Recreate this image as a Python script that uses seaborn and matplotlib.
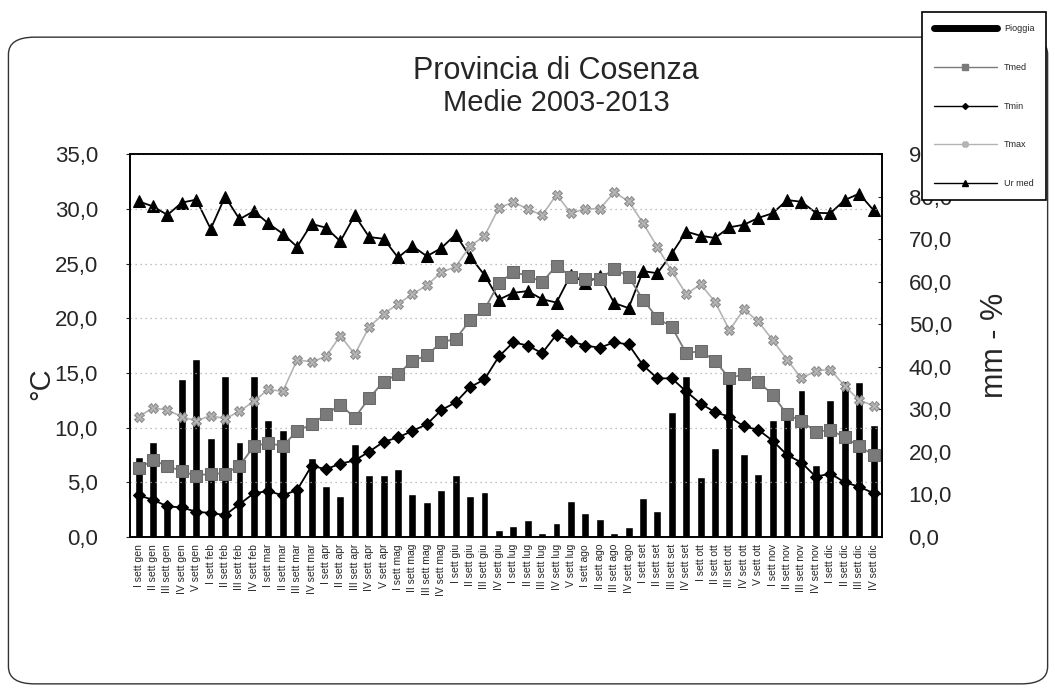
import matplotlib
matplotlib.use('Agg')
import matplotlib.pyplot as plt
from matplotlib.patches import FancyBboxPatch
from matplotlib.lines import Line2D
from matplotlib.ticker import FuncFormatter, MultipleLocator
import seaborn as sns
import numpy as np

# mesi e numero di settimane per mese (52 settimane)
mesi = ['gen', 'feb', 'mar', 'apr', 'mag', 'giu', 'lug', 'ago', 'set', 'ott', 'nov', 'dic']
sett_per_mese = [5, 4, 4, 5, 4, 4, 5, 4, 4, 5, 4, 4]
romani = ['I', 'II', 'III', 'IV', 'V']

# pioggia settimanale (mm)
pioggia = [18.7, 22.4, 7.8, 37.1, 41.9, 23.3, 37.8, 22.3, 37.9, 27.4,
           25.2, 12.0, 18.6, 12.0, 9.6, 21.8, 14.6, 14.5, 15.9, 10.0,
           8.3, 11.0, 14.5, 9.7, 10.5, 1.6, 2.5, 3.9, 1.0, 3.3,
           8.5, 5.7, 4.2, 1.0, 2.3, 9.1, 6.2, 29.3, 37.8, 14.2,
           20.8, 37.3, 19.5, 14.7, 27.4, 29.4, 34.6, 16.9, 32.1, 36.6,
           36.5, 26.4]
# temperature (°C)
tmed = [6.3, 7.0, 6.5, 6.0, 5.6, 5.8, 5.8, 6.5, 8.3, 8.6,
        8.3, 9.7, 10.3, 11.2, 12.1, 10.9, 12.7, 14.2, 14.9, 16.1,
        16.6, 17.8, 18.1, 19.8, 20.8, 23.2, 24.2, 23.9, 23.3, 24.8,
        23.8, 23.6, 23.6, 24.5, 23.8, 21.7, 20.0, 19.2, 16.8, 17.0,
        16.1, 14.5, 14.9, 14.2, 13.0, 11.2, 10.6, 9.6, 9.8, 9.1,
        8.3, 7.5]
tmin = [3.8, 3.4, 2.8, 2.7, 2.3, 2.2, 2.0, 3.0, 4.0, 4.2,
        3.8, 4.3, 6.5, 6.2, 6.7, 7.0, 7.8, 8.7, 9.1, 9.7,
        10.3, 11.6, 12.3, 13.7, 14.4, 16.5, 17.8, 17.5, 16.8, 18.5,
        17.9, 17.5, 17.3, 17.8, 17.6, 15.7, 14.5, 14.5, 13.3, 12.2,
        11.4, 11.0, 10.1, 9.8, 8.8, 7.5, 6.8, 5.5, 5.8, 5.0,
        4.6, 4.0]
tmax = [11.0, 11.8, 11.6, 11.0, 10.6, 11.1, 10.8, 11.5, 12.4, 13.5,
        13.3, 16.2, 16.0, 16.5, 18.4, 16.7, 19.2, 20.4, 21.3, 22.2,
        23.0, 24.2, 24.7, 26.6, 27.5, 30.1, 30.6, 30.0, 29.4, 31.3,
        29.6, 30.0, 30.0, 31.5, 30.7, 28.7, 26.5, 24.3, 22.2, 23.1,
        21.5, 18.9, 20.8, 19.7, 18.0, 16.2, 14.5, 15.2, 15.3, 13.8,
        12.5, 12.0]
# umidita' relativa media (%)
ur_med = [78.9, 77.7, 75.7, 78.6, 79.3, 72.4, 80.0, 74.7, 76.6, 73.7,
          71.3, 68.2, 73.6, 72.7, 69.5, 75.6, 70.5, 70.1, 65.7, 68.4,
          66.0, 67.9, 71.1, 65.9, 61.6, 55.8, 57.4, 57.8, 55.9, 55.1,
          61.7, 59.7, 61.3, 55.0, 53.8, 62.5, 62.0, 66.6, 71.8, 70.8,
          70.3, 72.8, 73.4, 75.0, 76.1, 79.2, 78.8, 76.2, 76.1, 79.2,
          80.7, 76.8]

etichette = []
for m, n in zip(mesi, sett_per_mese):
    for k in range(n):
        etichette.append(f'{romani[k]} sett {m}')
x = np.arange(len(pioggia))

sns.set_style('white')
plt.rcParams['font.family'] = ['Liberation Sans', 'DejaVu Sans']

fig = plt.figure(figsize=(10.55, 6.88), dpi=100)
ax = fig.add_axes([0.1232, 0.2195, 0.713, 0.5565])
ax2 = ax.twinx()

virgola = FuncFormatter(lambda v, p: f'{v:.1f}'.replace('.', ','))

# pioggia + umidita' sull'asse destro
sns.barplot(x=x, y=pioggia, ax=ax2, color='black', width=0.55, saturation=1)
sns.lineplot(x=x, y=ur_med, ax=ax2, color='black', lw=1.3, marker='^',
             markersize=9, markeredgecolor='black')
ax2.set_ylim(0, 90)
ax2.yaxis.set_major_locator(MultipleLocator(10))
ax2.yaxis.set_major_formatter(virgola)
ax2.tick_params(axis='y', labelsize=16, length=3, direction='in', pad=19)
ax2.set_ylabel('mm - %', fontsize=22, labelpad=20)

# temperature sull'asse sinistro
ax.set_zorder(ax2.get_zorder() + 1)
ax.patch.set_visible(False)
sns.lineplot(x=x, y=tmax, ax=ax, color='#b4b4b4', lw=1.2, marker='X',
             markersize=7, markeredgecolor='#8a8a8a')
sns.lineplot(x=x, y=tmed, ax=ax, color='#7a7a7a', lw=1.3, marker='s',
             markersize=8, markeredgecolor='#6a6a6a')
sns.lineplot(x=x, y=tmin, ax=ax, color='black', lw=1.3, marker='D',
             markersize=6, markeredgecolor='black')
ax.set_ylim(0, 35)
ax.set_xlim(-0.6, len(x) - 0.4)
ax.yaxis.set_major_locator(MultipleLocator(5))
ax.yaxis.set_major_formatter(virgola)
ax.tick_params(axis='y', labelsize=16, length=3, direction='out', pad=20)
ax.set_ylabel('°C', fontsize=21)
ax.yaxis.set_label_coords(-0.10, 0.40)
ax.grid(axis='y', color='#aaaaaa', ls=(0, (1, 3)), lw=0.9)
ax.set_xticks(x)
ax.set_xticklabels(etichette, rotation=90, fontsize=7.5)
ax.tick_params(axis='x', length=3, direction='out', pad=2)
ax2.set_xticks(x)
ax2.tick_params(axis='x', labelbottom=False, length=0)
for a in (ax, ax2):
    for s in a.spines.values():
        s.set_visible(True)
        s.set_color('black')
        s.set_linewidth(1.2)

fig.text(0.527, 0.897, 'Provincia di Cosenza', ha='center', va='center', fontsize=22)
fig.text(0.527, 0.851, 'Medie 2003-2013', ha='center', va='center', fontsize=21)

# cornice arrotondata del grafico
fig.patches.append(FancyBboxPatch((0.008, 0.006), 0.985, 0.94,
                                  boxstyle='round,pad=0,rounding_size=0.025',
                                  transform=fig.transFigure, fill=False,
                                  lw=1.0, ec='#333333'))

handles = [Line2D([], [], color='black', lw=5),
           Line2D([], [], color='#7a7a7a', marker='s', markersize=4, lw=1),
           Line2D([], [], color='black', marker='D', markersize=3, lw=1),
           Line2D([], [], color='#b4b4b4', marker='X', markersize=4, lw=1),
           Line2D([], [], color='black', marker='^', markersize=4, lw=1)]
leg = fig.legend(handles, ['Pioggia', 'Tmed', 'Tmin', 'Tmax', 'Ur med'],
                 loc='upper left', bbox_to_anchor=(0.874, 0.982), fontsize=6.5,
                 handlelength=7, handletextpad=0.8, labelspacing=3.3,
                 borderpad=1.3, borderaxespad=0,
                 fancybox=False, edgecolor='black', framealpha=1)
leg.get_frame().set_linewidth(1.2)
leg.set_zorder(10)

fig.savefig('out.png', dpi=100)
